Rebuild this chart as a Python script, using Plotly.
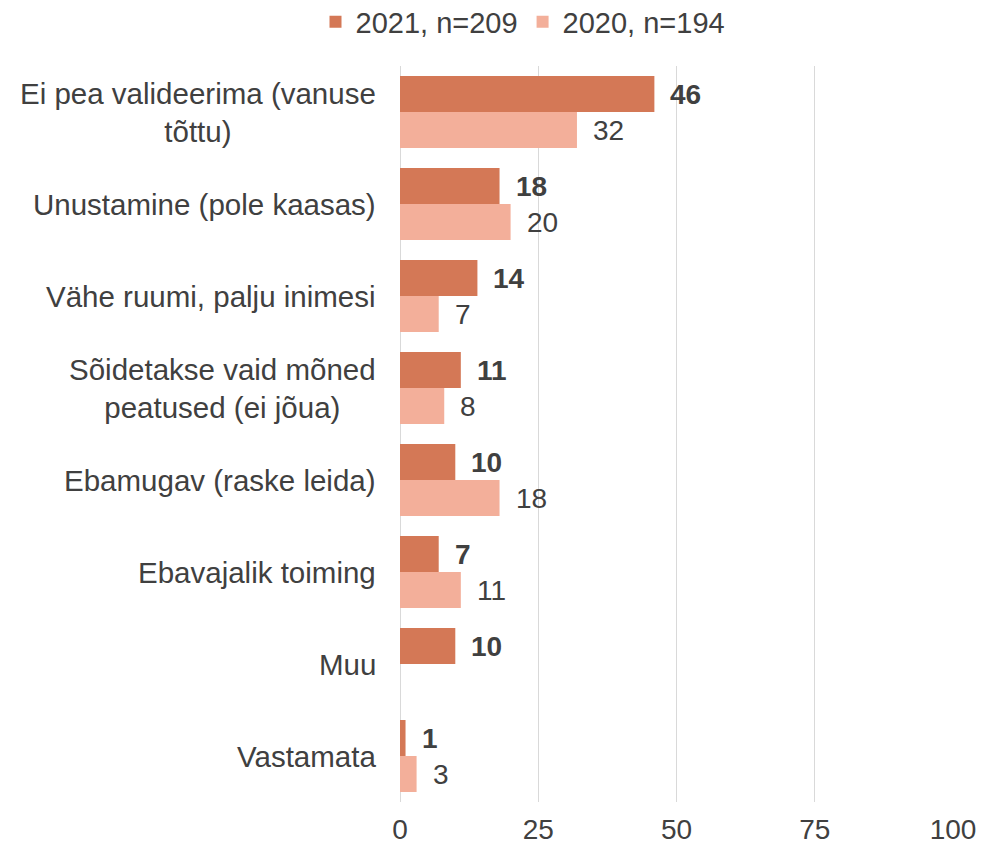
import plotly.graph_objects as go

# Survey reasons (percent of respondents), by year
categories = [
    "Ei pea valideerima (vanuse<br>tõttu)",
    "Unustamine (pole kaasas)",
    "Vähe ruumi, palju inimesi",
    "Sõidetakse vaid mõned<br>peatused (ei jõua)",
    "Ebamugav (raske leida)",
    "Ebavajalik toiming",
    "Muu",
    "Vastamata",
]
values_2021 = [46, 18, 14, 11, 10, 7, 10, 1]
values_2020 = [32, 20, 7, 8, 18, 11, None, 3]
name_2021 = "2021, n=209"
name_2020 = "2020, n=194"
x_ticks = [0, 25, 50, 75, 100]

COLOR_2021 = "#D47856"
COLOR_2020 = "#F3AF9A"
TEXT = "#404040"
FONT = "Liberation Sans, Arial, sans-serif"
FS = 28

fig = go.Figure()
fig.add_trace(go.Bar(
    name=name_2021, y=categories, x=values_2021, orientation="h",
    marker=dict(color=COLOR_2021, line=dict(width=0)),
))
fig.add_trace(go.Bar(
    name=name_2020, y=categories, x=values_2020, orientation="h",
    marker=dict(color=COLOR_2020, line=dict(width=0)),
))

annotations = []
# value labels next to bar ends
for vals, shift, bold in ((values_2021, 18, True), (values_2020, -18, False)):
    for cat, v in zip(categories, vals):
        if v is None:
            continue
        txt = f"<b>{v}</b>" if bold else str(v)
        annotations.append(dict(
            x=v, y=cat, xref="x", yref="y", text=txt, showarrow=False,
            xanchor="left", yanchor="middle", xshift=14, yshift=shift,
            font=dict(family=FONT, size=FS, color=TEXT),
        ))

# category labels, centred lines, right-aligned block
plot_w = 553
plot_h = 736
for cat in categories:
    annotations.append(dict(
        x=-22 / plot_w, y=cat, xref="paper", yref="y", text=cat,
        showarrow=False, xanchor="right", yanchor="middle", align="center",
        font=dict(family=FONT, size=29.5, color=TEXT),
    ))

fig.update_layout(
    width=981, height=846,
    margin=dict(l=400, r=28, t=66, b=44, autoexpand=False),
    paper_bgcolor="white", plot_bgcolor="white",
    barmode="group", bargap=0.217, bargroupgap=0,
    font=dict(family=FONT, size=FS, color=TEXT),
    showlegend=True,
    legend=dict(
        orientation="h", xref="container", x=523 / 981, xanchor="center",
        yref="paper", y=1 + 44 / plot_h, yanchor="middle",
        font=dict(family=FONT, size=29, color=TEXT),
        itemwidth=30, traceorder="normal", bgcolor="rgba(0,0,0,0)",
    ),
    annotations=annotations,
)
fig.update_xaxes(
    range=[0, 100], tickvals=x_ticks, ticktext=[str(t) for t in x_ticks],
    showgrid=True, gridcolor="#D9D9D9", gridwidth=1,
    zeroline=True, zerolinecolor="#D9D9D9", zerolinewidth=1,
    showline=False, ticks="", ticklabelstandoff=8,
    tickfont=dict(family=FONT, size=FS, color=TEXT), automargin=False,
)
fig.update_yaxes(
    autorange="reversed", showticklabels=False, showgrid=False,
    zeroline=False, showline=False, ticks="", automargin=False,
)

fig.write_html("out.html")
